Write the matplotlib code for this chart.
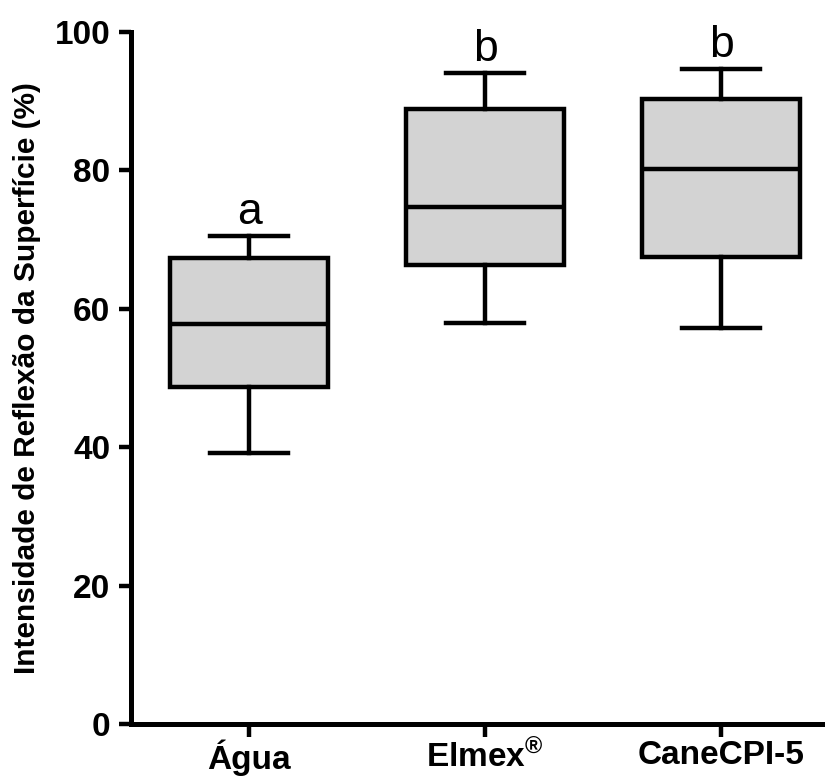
import matplotlib
matplotlib.use("Agg")
import matplotlib.pyplot as plt

plt.rcParams['font.family'] = ['Liberation Sans', 'DejaVu Sans']
plt.rcParams['mathtext.fontset'] = 'custom'
plt.rcParams['mathtext.rm'] = 'Liberation Sans:bold'
plt.rcParams['mathtext.it'] = 'Liberation Sans:bold'
plt.rcParams['mathtext.bf'] = 'Liberation Sans:bold'

groups = ['Água', 'Elmex$^{®}$', 'CaneCPI-5']
whislo = [39.2, 57.9, 57.2]
q1 = [48.7, 66.3, 67.5]
med = [57.8, 74.7, 80.2]
q3 = [67.3, 88.9, 90.3]
whishi = [70.5, 94.1, 94.6]
letters = ['a', 'b', 'b']

stats = []
for i in range(len(groups)):
    stats.append(dict(whislo=whislo[i], q1=q1[i], med=med[i], q3=q3[i],
                      whishi=whishi[i], fliers=[]))

fig = plt.figure(figsize=(8.25, 7.76), dpi=100)
ax = fig.add_axes([0.159, 0.067, 0.841, 0.892])

lw = 3.2
ax.bxp(stats, positions=range(len(groups)), widths=0.67, patch_artist=True,
       showfliers=False,
       boxprops=dict(facecolor='#d3d3d3', edgecolor='black', linewidth=lw),
       medianprops=dict(color='black', linewidth=lw),
       whiskerprops=dict(color='black', linewidth=lw),
       capprops=dict(color='black', linewidth=lw),
       capwidths=0.33)

# letras de significancia acima do bigode
for i, l in enumerate(letters):
    ax.text(i, whishi[i] + 1.7, l, ha='center', va='baseline', fontsize=32)

ax.set_xlim(-0.5, 2.44)
ax.set_ylim(0, 100)
ax.set_yticks([0, 20, 40, 60, 80, 100])
ax.set_xticks(range(len(groups)))
ax.set_xticklabels(groups)
for s in ['top', 'right']:
    ax.spines[s].set_visible(False)
for s in ['left', 'bottom']:
    ax.spines[s].set_linewidth(3.6)
ax.tick_params(axis='both', width=3.2, length=9, labelsize=24, pad=6)
ax.tick_params(axis='x', pad=2.5)
for lab in ax.get_xticklabels() + ax.get_yticklabels():
    lab.set_fontweight('bold')
ax.set_ylabel('Intensidade de Reflexão da Superfície (%)', fontsize=21.5,
              fontweight='bold')
ax.yaxis.set_label_coords(-0.13, 0.5)

fig.savefig('out.png', dpi=100)
